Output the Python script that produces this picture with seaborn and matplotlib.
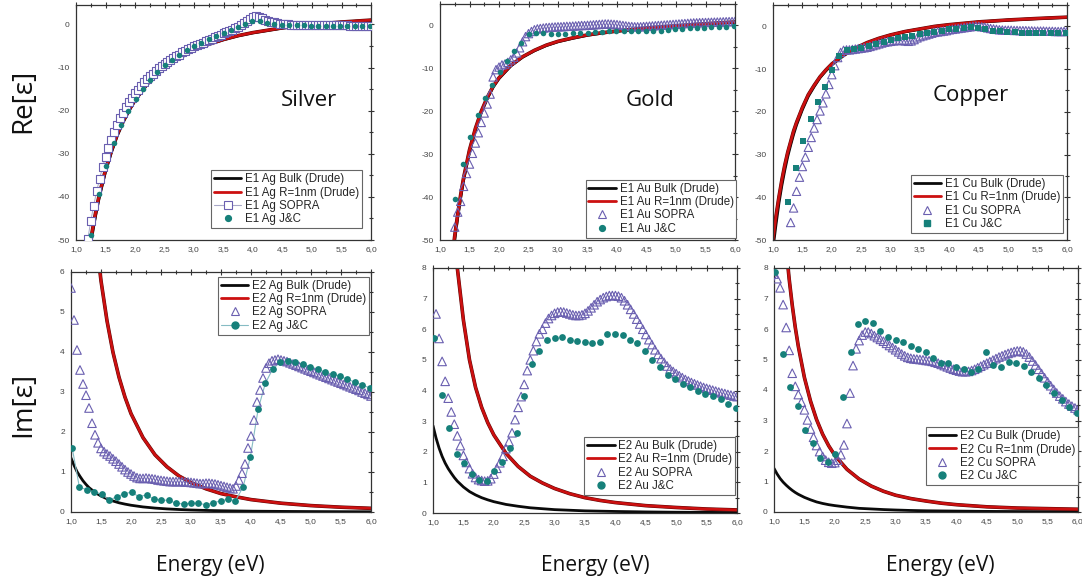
import matplotlib
matplotlib.use("Agg")
import matplotlib.pyplot as plt
import matplotlib.patheffects as pe
from matplotlib.lines import Line2D
from matplotlib.ticker import MultipleLocator, FuncFormatter
import numpy as np
import seaborn as sns

sns.set_theme(style="white")
plt.rcParams["font.family"] = ["Liberation Sans", "DejaVu Sans"]
plt.rcParams["axes.unicode_minus"] = False

# ---------------------------------------------------------------- energy grids (eV)
DRUDE_E = [1.0, 1.05, 1.1, 1.15, 1.2, 1.25, 1.3, 1.35, 1.4, 1.5, 1.6, 1.7, 1.8, 1.9, 2.0,
           2.2, 2.4, 2.6, 2.8, 3.0, 3.25, 3.5, 3.75, 4.0, 4.5, 5.0, 5.5, 6.0]
JC_E = [1.02, 1.14, 1.26, 1.39, 1.51, 1.64, 1.76, 1.88, 2.01, 2.13,
        2.26, 2.38, 2.50, 2.63, 2.75, 2.88, 3.00, 3.12, 3.25, 3.37,
        3.50, 3.62, 3.74, 3.87, 3.99, 4.12, 4.24, 4.36, 4.49, 4.61,
        4.74, 4.86, 4.98, 5.11, 5.23, 5.36, 5.48, 5.60, 5.73, 5.85, 5.98]
SOPRA_E = [round(1.0 + 0.05 * i, 2) for i in range(101)]

# ---------------------------------------------------------------- Re[eps], silver
AG_E1_BULK = [-55.5, -51.0, -46.8, -43.1, -39.8, -34.2, -29.7, -25.8, -22.7, -20.0, -17.7, -14.0,
              -11.3, -9.1, -7.45, -6.0, -4.65, -3.55, -2.65, -1.95, -0.85, -0.05, 0.5, 0.95]
AG_E1_R1 = [-54.5, -50.0, -46.0, -42.4, -39.2, -33.7, -29.3, -25.5, -22.4, -19.8, -17.5, -13.9,
            -11.2, -9.0, -7.4, -5.95, -4.6, -3.5, -2.6, -1.9, -0.8, 0.0, 0.55, 1.0]
AG_E1_SOPRA = [-49.8, -45.6, -42.0, -38.7, -35.8, -33.1, -30.8, -28.6, -26.7, -24.9,
               -23.3, -21.8, -20.5, -19.2, -18.1, -17.0, -16.0, -15.1, -14.2, -13.4,
               -12.7, -12.0, -11.4, -10.8, -10.2, -9.7, -9.2, -8.7, -8.2, -7.8,
               -7.4, -7.0, -6.5, -6.1, -5.8, -5.4, -5.1, -4.8, -4.5, -4.2,
               -3.9, -3.6, -3.3, -3.0, -2.7, -2.4, -2.1, -1.8, -1.5, -1.2,
               -0.9, -0.6, -0.2, 0.3, 0.8, 1.3, 1.8, 1.9, 1.7, 1.4,
               1.1, 0.8, 0.6, 0.45, 0.3, 0.2, 0.1, 0.05, 0.0, -0.05,
               -0.1, -0.1, -0.12, -0.14, -0.15, -0.16, -0.17, -0.18, -0.19, -0.2,
               -0.2, -0.21, -0.22, -0.22, -0.23, -0.24, -0.24, -0.25, -0.25, -0.26,
               -0.26, -0.27, -0.27, -0.28, -0.28, -0.29, -0.3]
AG_E1_JC = [-48.9, -39.4, -32.8, -27.5, -23.4, -20.1, -17.2, -14.9, -12.8, -11.0,
            -9.5, -8.2, -7.0, -6.0, -5.1, -4.3, -3.5, -2.7, -2.0, -1.3,
            -0.7, 0.0, 0.9, 0.8, 0.4, 0.1, -0.1, -0.2, -0.2, -0.25,
            -0.3, -0.3, -0.3, -0.35, -0.35, -0.4, -0.4, -0.4, -0.45]

# ---------------------------------------------------------------- Re[eps], gold
AU_E1_BULK = [-56, -50, -44.8, -40.2, -36.1, -29.5, -24.4, -20.3, -17.1, -14.4, -12.4, -9.45,
              -7.4, -5.9, -4.7, -3.8, -3.0, -2.3, -1.8, -1.35, -0.65, -0.15, 0.35, 0.75]
AU_E1_R1 = [-55, -49, -44, -39.5, -35.5, -29, -24, -20, -16.8, -14.2, -12.2, -9.3,
            -7.3, -5.8, -4.6, -3.7, -2.9, -2.2, -1.7, -1.3, -0.6, -0.1, 0.4, 0.8]
AU_E1_SOPRA = [-47.0, -43.5, -41.0, -37.5, -34.5, -32.3, -29.8, -27.4, -25.0, -22.6,
               -20.4, -18.3, -16.0, -12.0, -10.3, -9.7, -9.2, -9.0, -8.6, -8.0,
               -7.4, -6.4, -5.2, -3.8, -2.6, -1.9, -1.4, -1.0, -0.8, -0.7,
               -0.6, -0.5, -0.45, -0.4, -0.35, -0.3, -0.3, -0.25, -0.2, -0.2,
               -0.15, -0.1, -0.05, 0.0, 0.0, 0.05, 0.1, 0.15, 0.2, 0.25,
               0.3, 0.35, 0.35, 0.3, 0.25, 0.2, 0.1, 0.0, -0.1, -0.2,
               -0.25, -0.3, -0.3, -0.3, -0.25, -0.2, -0.15, -0.1, -0.05, 0.0,
               0.05, 0.1, 0.15, 0.2, 0.25, 0.3, 0.35, 0.4, 0.45, 0.5,
               0.55, 0.6, 0.62, 0.65, 0.68, 0.7, 0.72, 0.75, 0.78, 0.8,
               0.82, 0.85, 0.88, 0.9, 0.92, 0.95]
AU_E1_JC = [-40.5, -32.2, -26.0, -20.9, -16.8, -13.8, -10.8, -8.3, -6.0, -4.2,
            -2.0, -1.8, -1.8, -1.9, -1.9, -1.9, -1.8, -1.7, -1.8, -1.6,
            -1.5, -1.4, -1.3, -1.2, -1.2, -1.3, -1.4, -1.3, -1.2, -1.0,
            -0.9, -0.8, -0.7, -0.6, -0.5, -0.4, -0.3, -0.3, -0.2]

# ---------------------------------------------------------------- Re[eps], copper
CU_E1_BULK = [-52, -46.5, -41.5, -37.3, -33.7, -30.5, -27.8, -25.3, -23.1, -19.5, -16.4, -14.1,
              -12.0, -10.4, -9.0, -6.85, -5.2, -3.9, -2.9, -2.05, -1.25, -0.65, -0.05, 0.35,
              1.0, 1.45, 1.8, 2.1]
CU_E1_R1 = [-50, -44.5, -40, -36, -32.5, -29.5, -27, -24.5, -22.5, -19, -16, -13.8,
            -11.8, -10.2, -8.8, -6.7, -5.1, -3.8, -2.8, -2.0, -1.2, -0.6, 0.0, 0.4,
            1.05, 1.5, 1.85, 2.15]
CU_E1_SOPRA = [-45.9, -42.5, -38.6, -35.3, -32.8, -30.6, -28.3, -26.0, -23.8, -21.8,
               -19.8, -17.9, -15.8, -13.6, -11.3, -9.2, -7.3, -6.1, -5.6, -5.5,
               -5.5, -5.4, -5.3, -5.2, -5.1, -5.0, -4.9, -4.7, -4.5, -4.3,
               -4.1, -3.9, -3.7, -3.6, -3.5, -3.4, -3.3, -3.3, -3.3, -3.4,
               -3.5, -3.4, -3.1, -2.7, -2.4, -2.2, -2.0, -1.8, -1.6, -1.4,
               -1.3, -1.2, -1.1, -1.0, -0.8, -0.7, -0.6, -0.5, -0.4, -0.3,
               -0.2, -0.1, 0.0, 0.05, 0.0, -0.1, -0.2, -0.35, -0.5, -0.6,
               -0.7, -0.8, -0.85, -0.9, -0.9, -0.9, -0.95, -0.95, -1.0, -1.0,
               -1.0, -1.05, -1.05, -1.1, -1.1, -1.1, -1.1, -1.15, -1.15, -1.15,
               -1.2, -1.2, -1.2, -1.2, -1.2]
CU_E1_JC = [-41.2, -33.2, -26.8, -21.6, -17.6, -14.1, -10.2, -6.9, -5.6, -5.3,
            -5.0, -4.6, -4.1, -3.6, -3.2, -2.8, -2.5, -2.2, -1.9, -1.6,
            -1.3, -1.0, -0.7, -0.5, -0.3, -0.2, -0.3, -0.7, -1.0, -1.2,
            -1.3, -1.4, -1.5, -1.5, -1.6, -1.6, -1.6, -1.6, -1.6]

# ---------------------------------------------------------------- Im[eps], silver
AG_E2_BULK = [1.35, 1.17, 1.01, 0.89, 0.78, 0.69, 0.61, 0.55, 0.49, 0.40, 0.33, 0.275, 0.23, 0.197,
              0.169, 0.127, 0.098, 0.077, 0.062, 0.050, 0.039, 0.031, 0.026, 0.021, 0.015, 0.011,
              0.008, 0.006]
AG_E2_R1 = [7.08, 5.78, 4.78, 3.99, 3.37, 2.87, 2.46, 1.86, 1.43, 1.13, 0.9, 0.735, 0.58, 0.46,
            0.38, 0.31, 0.22, 0.16, 0.12, 0.092]
AG_E2_SOPRA = [5.6, 4.8, 4.05, 3.55, 3.2, 2.92, 2.6, 2.22, 1.93, 1.73,
               1.59, 1.51, 1.45, 1.4, 1.33, 1.27, 1.2, 1.13, 1.06, 1.0,
               0.95, 0.9, 0.86, 0.84, 0.84, 0.85, 0.84, 0.83, 0.82, 0.8,
               0.79, 0.78, 0.77, 0.76, 0.76, 0.76, 0.76, 0.76, 0.75, 0.75,
               0.74, 0.73, 0.72, 0.71, 0.71, 0.72, 0.72, 0.71, 0.7, 0.68,
               0.66, 0.64, 0.62, 0.6, 0.58, 0.65, 0.8, 0.97, 1.2, 1.6,
               1.9, 2.3, 2.75, 3.05, 3.35, 3.6, 3.72, 3.78, 3.8, 3.82,
               3.8, 3.78, 3.76, 3.73, 3.7, 3.67, 3.64, 3.61, 3.58, 3.55,
               3.52, 3.49, 3.46, 3.43, 3.4, 3.37, 3.34, 3.31, 3.28, 3.25,
               3.22, 3.19, 3.16, 3.13, 3.1, 3.07, 3.04, 3.0, 2.97, 2.94,
               2.9]
AG_E2_JC = [1.6, 0.62, 0.56, 0.5, 0.44, 0.3, 0.38, 0.45, 0.5, 0.38,
            0.43, 0.32, 0.3, 0.29, 0.22, 0.2, 0.22, 0.22, 0.18, 0.23,
            0.28, 0.32, 0.28, 0.63, 1.38, 2.58, 3.22, 3.57, 3.75, 3.78,
            3.74, 3.7, 3.63, 3.57, 3.5, 3.44, 3.4, 3.32, 3.25, 3.18,
            3.1]

# ---------------------------------------------------------------- Im[eps], gold
AU_E2_BULK = [2.85, 2.45, 2.12, 1.85, 1.63, 1.45, 1.3, 1.16, 1.04, 0.85, 0.7, 0.59, 0.5, 0.43,
              0.37, 0.28, 0.22, 0.17, 0.14, 0.11, 0.09, 0.07, 0.06, 0.05, 0.035, 0.025, 0.02, 0.015]
AU_E2_R1 = [9.0, 8.0, 6.3, 5.0, 4.1, 3.45, 2.95, 2.55, 1.95, 1.52, 1.2, 0.98, 0.8, 0.63, 0.5,
            0.41, 0.34, 0.24, 0.18, 0.13, 0.1]
AU_E2_SOPRA = [6.5, 5.7, 4.95, 4.3, 3.75, 3.3, 2.9, 2.52, 2.2, 1.88,
               1.65, 1.45, 1.28, 1.16, 1.09, 1.06, 1.04, 1.05, 1.12, 1.27,
               1.46, 1.64, 1.85, 2.1, 2.33, 2.62, 3.05, 3.45, 3.8, 4.2,
               4.65, 5.0, 5.3, 5.6, 5.85, 6.0, 6.2, 6.35, 6.45, 6.52,
               6.56, 6.57, 6.56, 6.53, 6.5, 6.47, 6.45, 6.45, 6.47, 6.52,
               6.6, 6.7, 6.8, 6.9, 6.97, 7.03, 7.07, 7.1, 7.1, 7.1,
               7.08, 7.03, 6.93, 6.8, 6.65, 6.5, 6.33, 6.17, 6.0, 5.83,
               5.66, 5.5, 5.33, 5.18, 5.04, 4.92, 4.8, 4.7, 4.62, 4.55,
               4.48, 4.42, 4.36, 4.31, 4.26, 4.22, 4.18, 4.14, 4.1, 4.07,
               4.04, 4.01, 3.98, 3.95, 3.92, 3.9, 3.87, 3.85, 3.82, 3.8]
AU_E2_JC = [5.72, 3.85, 2.78, 1.92, 1.62, 1.26, 1.07, 1.03, 1.36, 1.65,
            2.12, 2.6, 3.82, 4.86, 5.3, 5.65, 5.72, 5.74, 5.65, 5.62,
            5.6, 5.55, 5.58, 5.86, 5.83, 5.8, 5.65, 5.55, 5.3, 5.0,
            4.77, 4.52, 4.38, 4.22, 4.1, 3.98, 3.9, 3.82, 3.72, 3.55,
            3.42]

# ---------------------------------------------------------------- Im[eps], copper
CU_E2_BULK = [1.43, 1.25, 1.1, 0.98, 0.88, 0.79, 0.71, 0.64, 0.58, 0.48, 0.4, 0.33, 0.28, 0.24,
              0.21, 0.16, 0.12, 0.1, 0.08, 0.065, 0.05, 0.04, 0.035, 0.03, 0.02, 0.015, 0.012, 0.01]
CU_E2_R1 = [8.63, 7.63, 6.78, 6.05, 5.43, 4.41, 3.64, 3.03, 2.55, 2.17, 1.86, 1.40, 1.08, 0.85,
            0.68, 0.55, 0.44, 0.36, 0.29, 0.24, 0.17, 0.13, 0.11, 0.09]
CU_E2_SOPRA = [7.8, 7.65, 7.35, 6.8, 6.05, 5.3, 4.55, 4.12, 3.85, 3.6,
               3.35, 3.02, 2.72, 2.45, 2.18, 1.98, 1.82, 1.7, 1.63, 1.6,
               1.62, 1.7, 1.88, 2.2, 2.9, 3.9, 4.8, 5.35, 5.62, 5.8,
               5.9, 5.9, 5.85, 5.78, 5.72, 5.66, 5.6, 5.53, 5.46, 5.39,
               5.32, 5.25, 5.18, 5.12, 5.07, 5.04, 5.02, 5.01, 5.0, 4.99,
               4.97, 4.96, 4.94, 4.91, 4.88, 4.84, 4.8, 4.76, 4.72, 4.68,
               4.65, 4.62, 4.6, 4.6, 4.61, 4.64, 4.68, 4.73, 4.78, 4.83,
               4.88, 4.93, 4.98, 5.03, 5.08, 5.12, 5.16, 5.2, 5.23, 5.26,
               5.28, 5.28, 5.25, 5.18, 5.08, 4.95, 4.82, 4.68, 4.54, 4.4,
               4.27, 4.14, 4.02, 3.9, 3.8, 3.71, 3.62, 3.54, 3.47, 3.41,
               3.35]
CU_E2_JC = [7.86, 5.19, 4.11, 3.48, 2.69, 2.25, 1.78, 1.63, 1.9, 3.78,
            5.26, 6.15, 6.25, 6.2, 5.93, 5.75, 5.65, 5.58, 5.45, 5.36,
            5.26, 5.05, 4.88, 4.9, 4.77, 4.68, 4.6, 4.7, 5.26, 4.83,
            4.75, 4.93, 4.88, 4.78, 4.6, 4.4, 4.18, 3.9, 3.68, 3.45,
            3.23]

METALS = ["Silver", "Gold", "Copper"]
SYMBOLS = ["Ag", "Au", "Cu"]

# ---------------------------------------------------------------- styling
BLACK = "#0a0a0a"
RED = "#cc1010"
PURPLE = "#6a5fb0"
TEAL = "#16807a"
W, H = 1082, 583


def tail(grid, vals):
    """Energies belonging to a series that starts part-way into a grid."""
    return grid[len(grid) - len(vals):]


fig = plt.figure(figsize=(W / 100, H / 100), dpi=100)
fig.patch.set_facecolor("white")


def add_axes(left, right, top, bottom):
    return fig.add_axes([left / W, 1 - bottom / H, (right - left) / W, (bottom - top) / H])


def style_axes(ax, ylim, ymaj, ymin):
    ax.set_xlim(1.0, 6.0)
    ax.set_ylim(*ylim)
    ax.set_facecolor("white")
    ax.xaxis.set_major_locator(MultipleLocator(0.5))
    ax.xaxis.set_minor_locator(MultipleLocator(0.25))
    ax.yaxis.set_major_locator(MultipleLocator(ymaj))
    ax.yaxis.set_minor_locator(MultipleLocator(ymin))
    ax.xaxis.set_major_formatter(FuncFormatter(lambda v, p: f"{v:.1f}".replace(".", ",")))
    ax.yaxis.set_major_formatter(FuncFormatter(lambda v, p: f"{v:.0f}"))
    ax.tick_params(which="both", direction="inout", top=True, right=True,
                   labeltop=False, labelright=False, color="#333333",
                   labelsize=6, labelcolor="#444444", pad=2, width=0.8)
    ax.tick_params(which="major", length=5)
    ax.tick_params(which="minor", length=3)
    for s in ax.spines.values():
        s.set_color("#333333")
        s.set_linewidth(0.9)
    ax.set_xlabel("")
    ax.set_ylabel("")


def drude_lines(ax, bulk, r1):
    sns.lineplot(x=tail(DRUDE_E, bulk), y=bulk, ax=ax, color=BLACK, lw=2.0,
                 sort=False, estimator=None, legend=False)
    line = sns.lineplot(x=tail(DRUDE_E, r1), y=r1, ax=ax, color=RED, lw=1.9,
                        sort=False, estimator=None, legend=False).lines[-1]
    line.set_path_effects([pe.Stroke(linewidth=2.6, foreground="#5a0505"), pe.Normal()])


def legend(ax, labels, sopra_marker, jc_marker, sopra_line, jc_line, loc, anchor, ms_jc):
    handles = [
        Line2D([], [], color=BLACK, lw=2.0),
        Line2D([], [], color=RED, lw=2.0),
        Line2D([], [], marker=sopra_marker, mfc="white", mec=PURPLE, mew=0.8, ms=6,
               color="#a8a8c8" if sopra_line else "none", lw=0.8 if sopra_line else 0),
        Line2D([], [], marker=jc_marker, mfc=TEAL, mec=TEAL, ms=ms_jc,
               color="#86bcc4" if jc_line else "none", lw=0.8 if jc_line else 0),
    ]
    leg = ax.legend(handles, labels, loc=loc, bbox_to_anchor=anchor, fontsize=8.3,
                    frameon=True, fancybox=False, framealpha=1, edgecolor="#666666",
                    borderpad=0.25, labelspacing=0.12, handlelength=2.4,
                    handletextpad=0.3, borderaxespad=0)
    leg.get_frame().set_linewidth(0.8)


# ---------------------------------------------------------------- top row: Re[eps]
top_boxes = [(76, 371, 5, 240), (440, 735, 4, 240), (773, 1067, 5, 240)]
top_data = [
    (AG_E1_BULK, AG_E1_R1, AG_E1_SOPRA, AG_E1_JC, "s", "o", (-50, 4.5)),
    (AU_E1_BULK, AU_E1_R1, AU_E1_SOPRA, AU_E1_JC, "^", "o", (-50, 5)),
    (CU_E1_BULK, CU_E1_R1, CU_E1_SOPRA, CU_E1_JC, "^", "s", (-50, 5)),
]
top_legends = [("lower right", (0.969, 0.05)), ("lower right", (1.005, 0.01)),
               ("lower right", (0.986, 0.03))]

for i, (box, (bulk, r1, sopra, jc, smk, jmk, ylim), (loc, anc)) in enumerate(
        zip(top_boxes, top_data, top_legends)):
    ax = add_axes(*box)
    drude_lines(ax, bulk, r1)
    sx = tail(SOPRA_E, sopra)
    if i == 0:
        sns.lineplot(x=sx, y=sopra, ax=ax, color="#a8a8c8", lw=0.7, sort=False,
                     estimator=None, legend=False)
    sns.scatterplot(x=sx, y=sopra, ax=ax, marker=smk, s=26 if smk == "s" else 36,
                    facecolor="white" if smk == "s" else "none", edgecolor=PURPLE,
                    linewidth=0.8, zorder=3, legend=False)
    sns.scatterplot(x=tail(JC_E, jc), y=jc, ax=ax, marker=jmk, s=16 if jmk == "o" else 18,
                    color=TEAL, edgecolor=TEAL, linewidth=0, zorder=4, legend=False)
    style_axes(ax, ylim, 10, 5)
    sym = SYMBOLS[i]
    legend(ax, [f"E1 {sym} Bulk (Drude)", f"E1 {sym} R=1nm (Drude)",
                f"E1 {sym} SOPRA", f"E1 {sym} J&C"],
           smk, jmk, i == 0, False, loc, anc, 4.2)

# ---------------------------------------------------------------- bottom row: Im[eps]
bot_boxes = [(71, 371, 272, 512), (433, 737, 268, 513), (774, 1078, 268, 512)]
bot_data = [
    (AG_E2_BULK, AG_E2_R1, AG_E2_SOPRA, AG_E2_JC, (0, 6)),
    (AU_E2_BULK, AU_E2_R1, AU_E2_SOPRA, AU_E2_JC, (0, 8)),
    (CU_E2_BULK, CU_E2_R1, CU_E2_SOPRA, CU_E2_JC, (0, 8)),
]
bot_legends = [("upper right", (0.993, 0.98)), ("lower right", (0.993, 0.073)),
               ("lower right", (1.0, 0.11))]

for i, (box, (bulk, r1, sopra, jc, ylim), (loc, anc)) in enumerate(
        zip(bot_boxes, bot_data, bot_legends)):
    ax = add_axes(*box)
    drude_lines(ax, bulk, r1)
    sx = tail(SOPRA_E, sopra)
    jx = tail(JC_E, jc)
    if i == 0:
        sns.lineplot(x=jx, y=jc, ax=ax, color="#86bcc4", lw=0.8, sort=False,
                     estimator=None, legend=False)
    sns.scatterplot(x=sx, y=sopra, ax=ax, marker="^", s=38, facecolor="none",
                    edgecolor=PURPLE, linewidth=0.8, zorder=3, legend=False)
    sns.scatterplot(x=jx, y=jc, ax=ax, marker="o", s=24, color=TEAL, edgecolor=TEAL,
                    linewidth=0, zorder=4, legend=False)
    style_axes(ax, ylim, 1, 0.5)
    sym = SYMBOLS[i]
    legend(ax, [f"E2 {sym} Bulk (Drude)", f"E2 {sym} R=1nm (Drude)",
                f"E2 {sym} SOPRA", f"E2 {sym} J&C"],
           "^", "o", False, i == 0, loc, anc, 5)

# ---------------------------------------------------------------- annotations
BIG = ["Open Sans", "DejaVu Sans"]
for name, (x, y) in zip(METALS, [(309, 100), (650, 100), (971, 95)]):
    fig.text(x / W, 1 - y / H, name, ha="center", va="center", fontsize=16,
             family=BIG, color="#111111")
fig.text(23 / W, 1 - 101 / H, "Re[ε]", rotation=90, ha="center", va="center",
         fontsize=20, family=BIG, color="#111111")
fig.text(23 / W, 1 - 404 / H, "Im[ε]", rotation=90, ha="center", va="center",
         fontsize=20, family=BIG, color="#111111")
for x in (210, 595, 940):
    fig.text(x / W, 1 - 565 / H, "Energy (eV)", ha="center", va="center",
             fontsize=15, family=BIG, color="#111111")

fig.savefig("out.png", dpi=100, facecolor="white")
